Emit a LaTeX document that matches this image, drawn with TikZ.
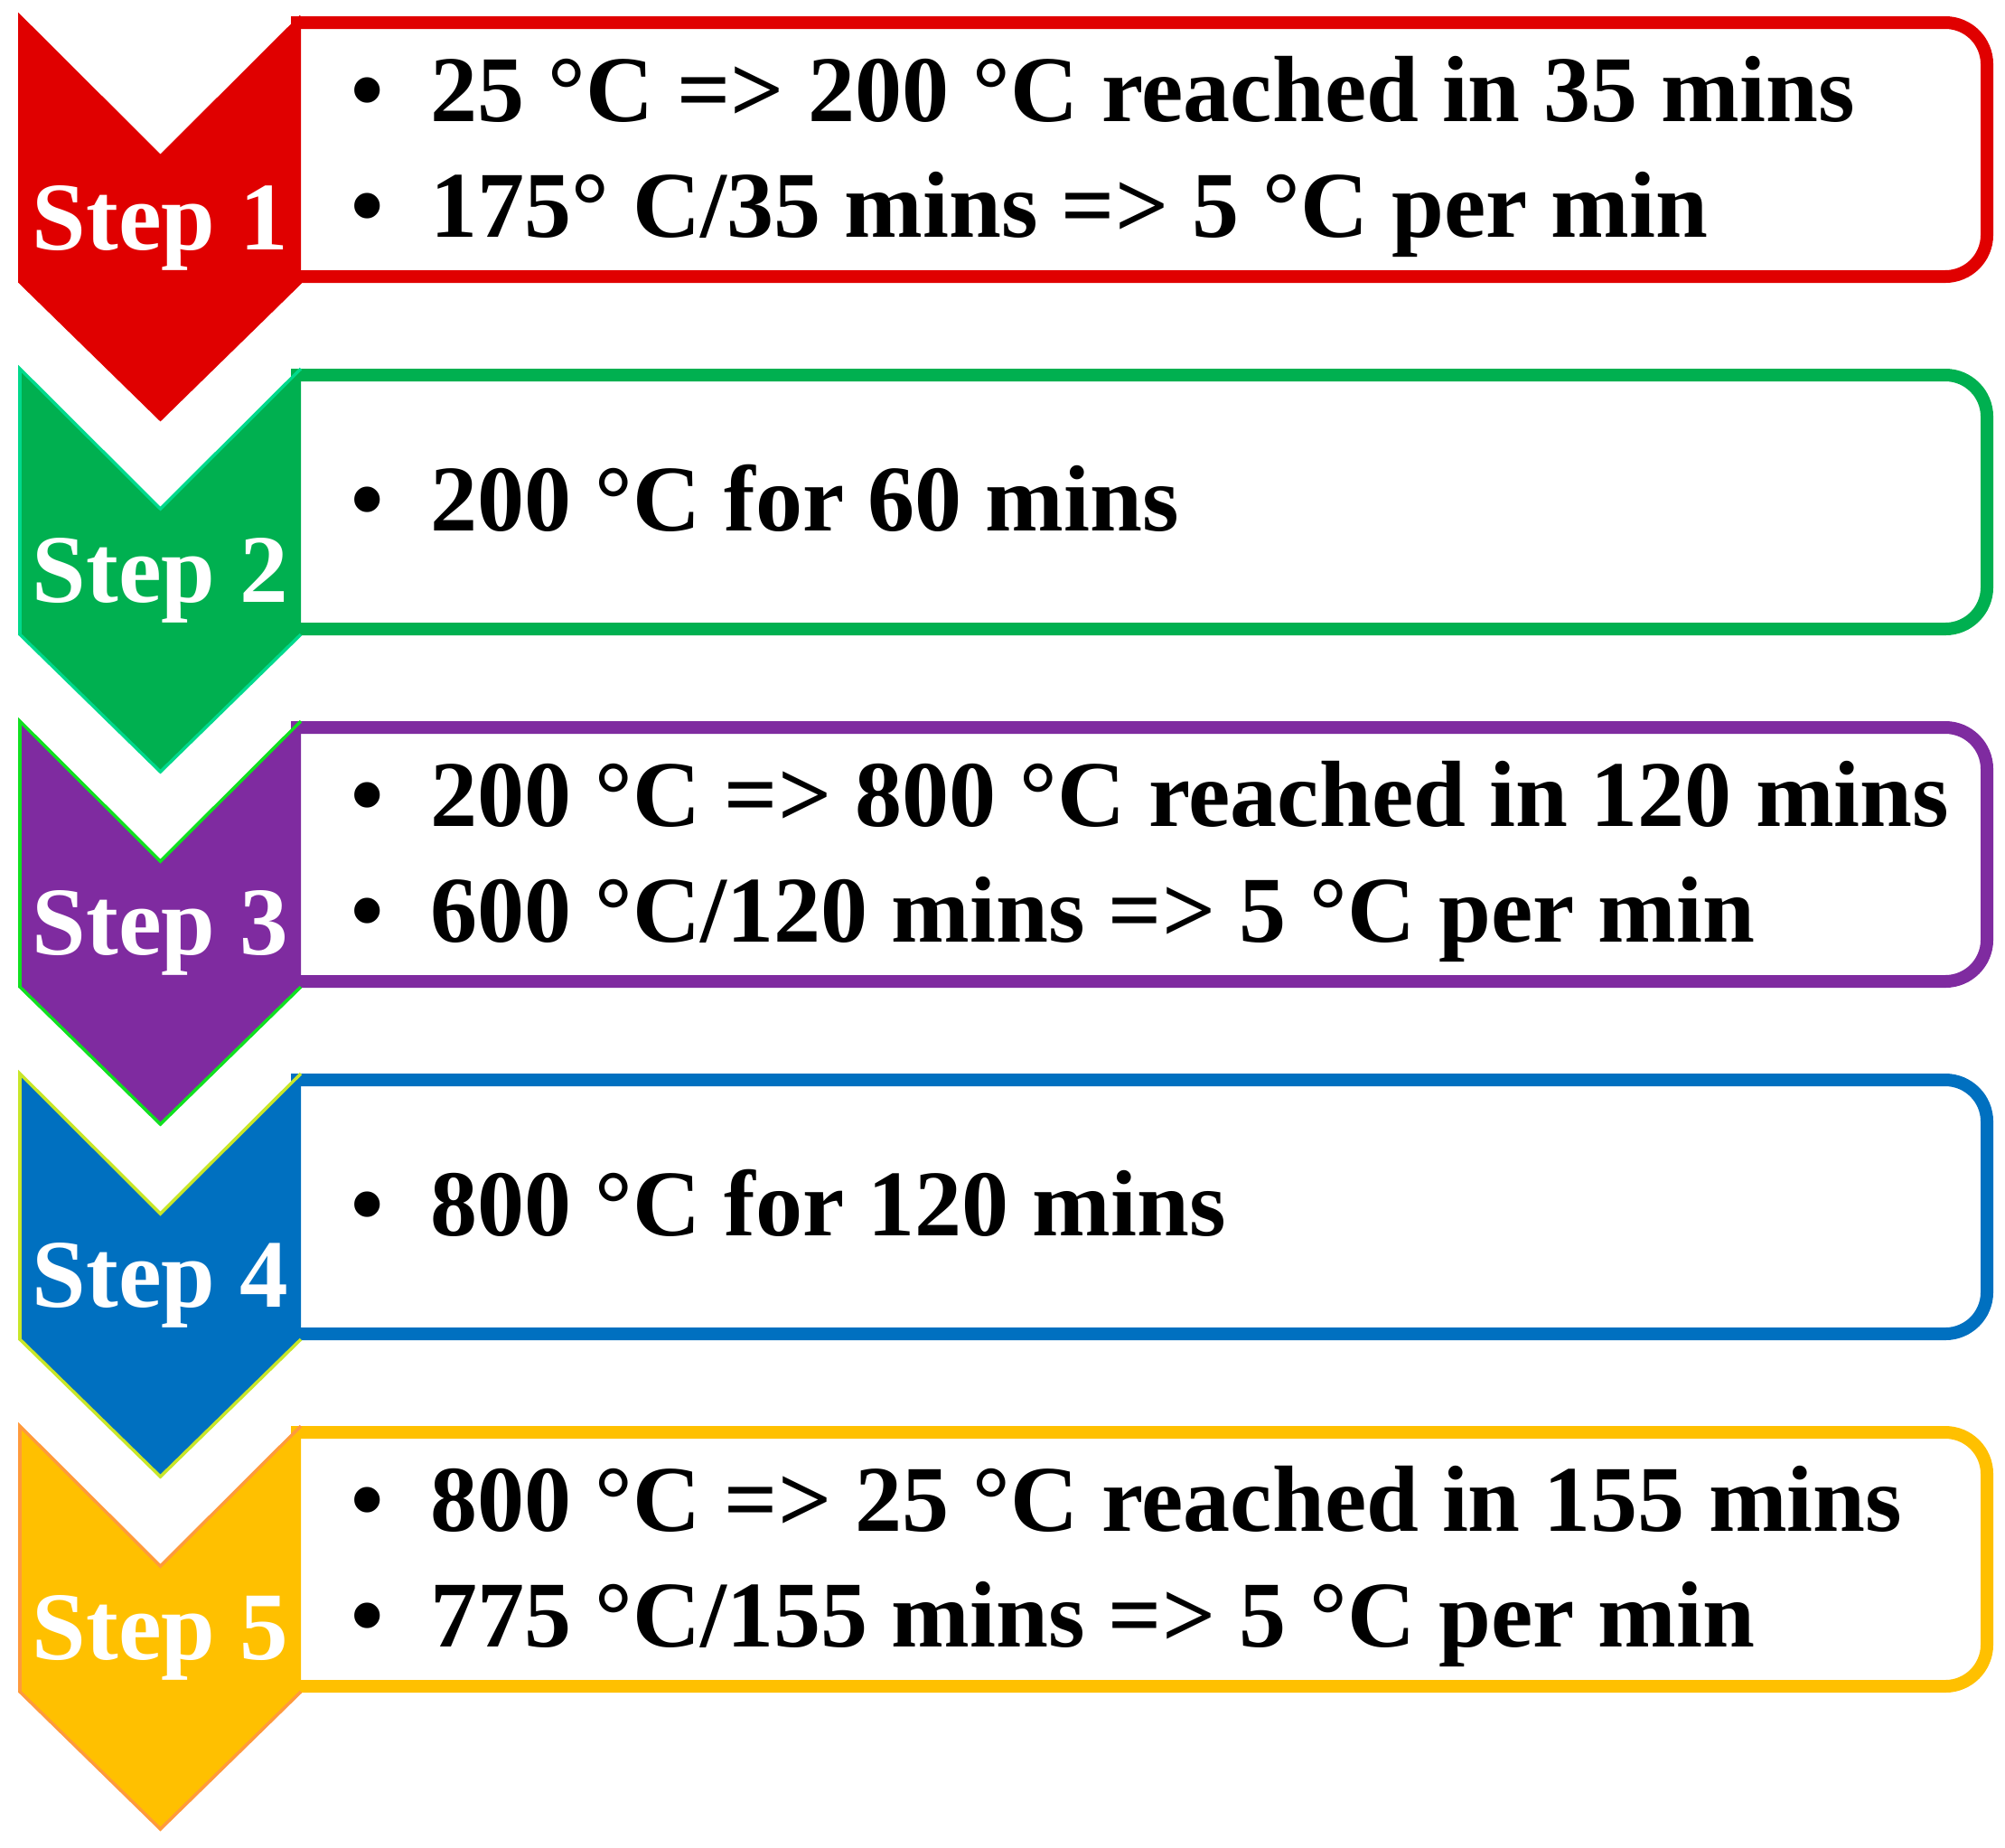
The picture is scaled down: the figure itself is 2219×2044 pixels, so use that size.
\documentclass[tikz,border=0pt]{standalone}
\usepackage{fontspec}
\setmainfont{Liberation Serif}
\definecolor{cRed}{HTML}{E00000}
\definecolor{cGreen}{HTML}{00B050}
\definecolor{cPurple}{HTML}{7F2BA0}
\definecolor{cBlue}{HTML}{0070C0}
\definecolor{cGold}{HTML}{FFC000}
\definecolor{oGreen}{HTML}{00D98C}
\definecolor{oPurple}{HTML}{10E020}
\definecolor{oBlue}{HTML}{C8E628}
\definecolor{oGold}{HTML}{FF9A3C}
\newcommand\mkstep[4]{%
  \fill[white, rounded corners=0.46cm] (322,{#1+7}) rectangle (2199,{#1+288});
  \draw[boxline, draw=#2] (322,{#1+7}) -- (2199,{#1+7}) -- (2199,{#1+288}) -- (322,{#1+288});
  \fill[#2] (22,#1) -- (177.5,{#1+155}) -- (333,#1) -- (333,{#1+294}) -- (177.5,{#1+446}) -- (22,{#1+294}) -- cycle;
  \draw[chevline, draw=#3] (333,#1) -- (177.5,{#1+155}) -- (22,#1) -- (22,{#1+294}) -- (177.5,{#1+446}) -- (333,{#1+294});
  \node[steplabel] (step#4) at (177.5,{#1+258}) {Step #4};
}
\begin{document}
\begin{tikzpicture}[x=0.01cm,y=-0.01cm,
  boxline/.style={line width=0.14cm, rounded corners=0.46cm},
  chevline/.style={line width=0.035cm, line join=miter},
  steplabel/.style={text=white, font=\fontsize{30.5pt}{36pt}\selectfont\bfseries, anchor=base, inner sep=0pt},
  bul/.style={font=\fontsize{29.6pt}{36pt}\selectfont\bfseries, anchor=base, inner sep=0pt},
  txt/.style={font=\fontsize{29.6pt}{36pt}\selectfont\bfseries, anchor=base west, inner sep=0pt}]
\useasboundingbox[fill=white] (0,0) rectangle (2219,2044);

\mkstep{18}{cRed}{cRed}{1}
\node[bul] (b1a) at (407,134) {•};
\node[txt] (t1a) at (476,134) {25 °C => 200 °C reached in 35 mins};
\node[bul] (b1b) at (407,262) {•};
\node[txt] (t1b) at (476,262) {175° C/35 mins => 5 °C per min};

\mkstep{408}{cGreen}{oGreen}{2}
\node[bul] (b2a) at (407,587) {•};
\node[txt] (t2a) at (476,587) {200 °C for 60 mins};

\mkstep{798}{cPurple}{oPurple}{3}
\node[bul] (b3a) at (407,914) {•};
\node[txt] (t3a) at (476,914) {200 °C => 800 °C reached in 120 mins};
\node[bul] (b3b) at (407,1042) {•};
\node[txt] (t3b) at (476,1042) {600 °C/120 mins => 5 °C per min};

\mkstep{1188}{cBlue}{oBlue}{4}
\node[bul] (b4a) at (407,1367) {•};
\node[txt] (t4a) at (476,1367) {800 °C for 120 mins};

\mkstep{1578}{cGold}{oGold}{5}
\node[bul] (b5a) at (407,1694) {•};
\node[txt] (t5a) at (476,1694) {800 °C => 25 °C reached in 155 mins};
\node[bul] (b5b) at (407,1822) {•};
\node[txt] (t5b) at (476,1822) {775 °C/155 mins => 5 °C per min};
\end{tikzpicture}
\end{document}
